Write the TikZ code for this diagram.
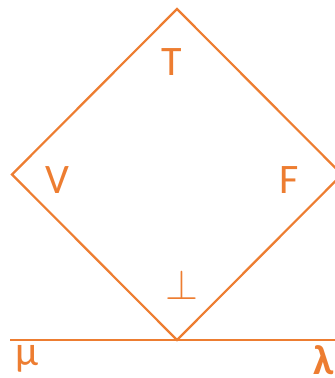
\documentclass[tikz,border=0pt]{standalone}
\usepackage{fontspec}
\setmainfont{Carlito}
\usepackage{graphicx}
\usepackage{xcolor}
\usepackage{tikz}
\usetikzlibrary{positioning}
\definecolor{accent}{HTML}{ED7D31}

\begin{document}
\begin{tikzpicture}[x=1pt, y=-1pt,
  edge/.style={draw=accent, line width=2.2pt, line join=miter},
  lab/.style={text=accent, inner sep=0pt, font=\fontsize{42}{48}\selectfont}]
\useasboundingbox (0,0) rectangle (335,378);
\coordinate (top) at (177,9);
\coordinate (left) at (12,174.5);
\coordinate (right) at (342,174.5);
\coordinate (bottom) at (177,340);
\coordinate (lineL) at (10,340);
\coordinate (lineR) at (340,340);
\draw[edge] (top) -- (right) -- (bottom) -- (left) -- cycle;
\draw[edge] (lineL) -- (lineR);
\node[lab] (T) at (172,62) {T};
\node[lab] (V) at (57,180) {V};
\node[lab] (F) at (289,180) {F};
\node[lab, anchor=south] (bot) at (181.5,300) {\scalebox{1.7}{$\perp$}};
\node[lab, anchor=base west] (mu) at (15,365) {μ};
\node[lab, anchor=base east] (lam) at (334,374) {\bfseries λ};
\end{tikzpicture}
\end{document}
